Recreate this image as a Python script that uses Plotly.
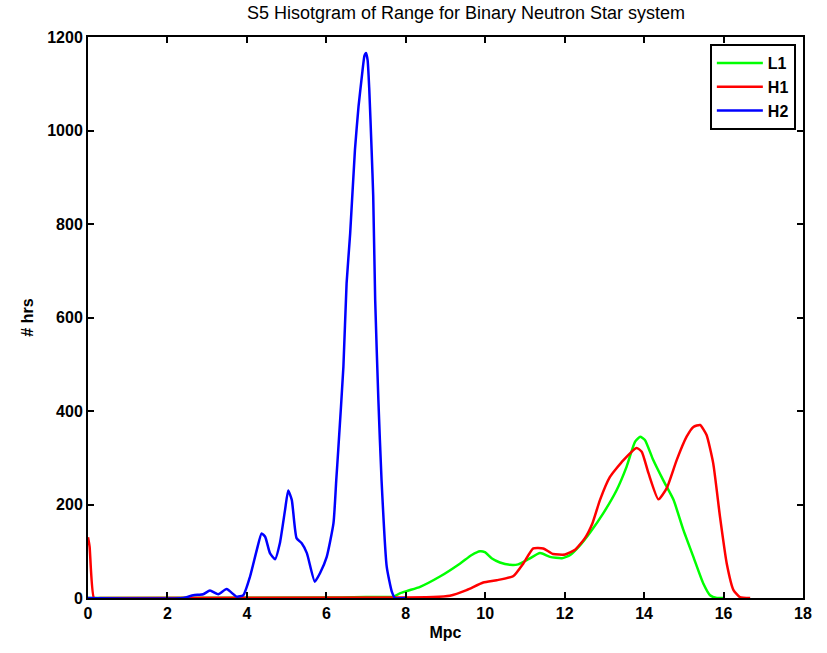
import plotly.graph_objects as go

# L1 (green)
l1_x = [0, 6.4, 7.0, 7.7, 7.85, 8.07, 8.36, 8.86, 9.37, 9.66, 9.87, 9.99, 10.16, 10.37, 10.62,
        10.83, 11.09, 11.38, 11.63, 11.93, 12.14, 12.39, 12.64, 12.97, 13.31, 13.56, 13.77,
        13.90, 14.02, 14.23, 14.48, 14.74, 14.99, 15.24, 15.49, 15.66, 15.83, 16.0]
l1_y = [0, 1, 2, 3, 10, 16, 24, 46, 74, 92, 100, 98, 85, 76, 71,
        72, 83, 96, 88, 85, 92, 113, 140, 181, 231, 281, 334,
        345, 338, 295, 252, 210, 145, 88, 31, 6, 0, 0]

# H1 (red)
h1_x = [0, 0.04, 0.15, 0.3, 7.85, 8.69, 9.11, 9.53, 9.95, 10.29, 10.71, 10.96, 11.21, 11.46,
        11.71, 12.01, 12.26, 12.51, 12.7, 12.89, 13.14, 13.48, 13.81, 13.94, 14.11, 14.36,
        14.57, 14.82, 15.07, 15.24, 15.41, 15.57, 15.74, 15.91, 16.08, 16.25, 16.41, 16.67]
h1_y = [130, 110, 0, 0, 1, 2, 5, 17, 33, 38, 47, 74, 106, 106,
        94, 93, 103, 128, 160, 210, 259, 295, 321, 313, 267, 211,
        235, 295, 345, 366, 370, 349, 288, 174, 74, 17, 2, 0]

# H2 (blue)
h2_x = [0, 2.4, 2.65, 2.9, 3.07, 3.28, 3.49, 3.74, 3.91, 4.08, 4.25, 4.37, 4.46, 4.58, 4.71,
        4.83, 4.96, 5.04, 5.13, 5.25, 5.38, 5.51, 5.71, 5.84, 6.01, 6.18, 6.25, 6.30, 6.43,
        6.51, 6.60, 6.72, 6.81, 6.9, 6.96, 7.0, 7.04, 7.08, 7.14, 7.18, 7.23, 7.31, 7.39,
        7.52, 7.65, 7.73, 8.0]
h2_y = [0, 0, 6, 8, 16, 8, 19, 3, 6, 46, 103, 138, 131, 96, 83,
        117, 188, 230, 210, 128, 117, 96, 35, 53, 88, 160, 252, 317, 495,
        673, 780, 958, 1051, 1120, 1160, 1166, 1150, 1090, 958, 860, 637, 424, 252,
        67, 13, 0, 0]

x_ticks = [0, 2, 4, 6, 8, 10, 12, 14, 16, 18]
y_ticks = [0, 200, 400, 600, 800, 1000, 1200]

fnt = "Liberation Sans, Arial, Helvetica, sans-serif"

fig = go.Figure()
for name, xs, ys, col in [("L1", l1_x, l1_y, "#00ff00"),
                          ("H1", h1_x, h1_y, "#ff0000"),
                          ("H2", h2_x, h2_y, "#0000ff")]:
    fig.add_trace(go.Scatter(x=xs, y=ys, mode="lines", name=name,
                             line=dict(color=col, width=2.5, shape="spline", smoothing=0.5)))

axis_common = dict(showgrid=False, zeroline=False, showline=True, linecolor="black",
                   linewidth=2, mirror="ticks", ticks="inside", ticklen=6,
                   tickwidth=2, tickcolor="black",
                   tickfont=dict(family=fnt, size=16, color="black", weight="bold"))

fig.update_layout(
    width=827, height=653,
    margin=dict(l=88, r=24, t=37, b=55),
    paper_bgcolor="white", plot_bgcolor="white",
    title=dict(text="S5 Hisotgram of Range for Binary Neutron Star system",
               x=(466) / 827, xanchor="center", y=1 - 13 / 653, yanchor="middle",
               font=dict(family=fnt, size=18, color="black")),
    xaxis=dict(range=[0, 18], tickvals=x_ticks,
               title=dict(text="Mpc", standoff=6,
                          font=dict(family=fnt, size=16, color="black", weight="bold")),
               **axis_common),
    yaxis=dict(range=[0, 1200], tickvals=y_ticks,
               title=dict(text="# hrs", standoff=10,
                          font=dict(family=fnt, size=16, color="black", weight="bold")),
               **axis_common),
    legend=dict(x=0.990, y=0.9875, xanchor="right", yanchor="top",
                bordercolor="black", borderwidth=2, bgcolor="white",
                font=dict(family=fnt, size=16, color="black", weight="bold"),
                tracegroupgap=0, itemwidth=46),
    showlegend=True,
)

fig.write_html("out.html")
